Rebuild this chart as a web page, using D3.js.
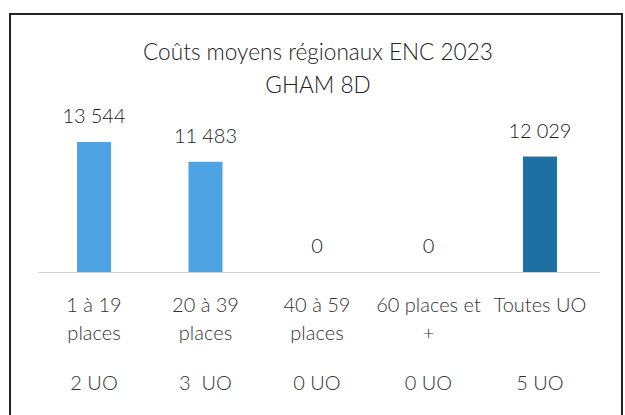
<!DOCTYPE html>
<html><head><meta charset="utf-8">
<script src="https://cdn.jsdelivr.net/npm/d3@7"></script>
<style>body{margin:0;background:#fff}svg{display:block}</style>
</head><body>
<svg id="c" width="625" height="415"></svg>
<script>
const categories = [["1 à 19","places"],["20 à 39","places"],["40 à 59","places"],["60 places et","+"],["Toutes UO"]];
const values = [13544, 11483, 0, 0, 12029];
const uoLabels = ["2 UO","3  UO","0 UO","0 UO","5 UO"];
const titleLines = ["Coûts moyens régionaux ENC 2023","GHAM 8D"];
const colors = ["#4ea4e2","#4ea4e2","#4ea4e2","#4ea4e2","#1e6fa2"];

const svg = d3.select("#c");
const font = "Lato, 'Open Sans', sans-serif";
svg.append("rect").attr("x",0).attr("y",0).attr("width",625).attr("height",415).attr("fill","#fff");
svg.append("rect").attr("x",10).attr("y",14).attr("width",612).attr("height",410)
  .attr("fill","none").attr("stroke","#222").attr("stroke-width",2);

const x = d3.scaleBand().domain(d3.range(values.length)).range([38,596]).paddingInner(0.695).paddingOuter(0.35);
const y = d3.scaleLinear().domain([0,13544]).range([272,142]);

svg.selectAll("text.title").data(titleLines).join("text")
  .attr("x",318).attr("y",(d,i)=>60+i*33).attr("text-anchor","middle")
  .attr("font-family",font).attr("font-size",22.6).attr("font-weight",300).attr("fill","#222").text(d=>d);

svg.append("line").attr("x1",38).attr("x2",600).attr("y1",272.5).attr("y2",272.5)
  .attr("stroke","#d4d4d4").attr("stroke-width",1.2);

svg.selectAll("rect.bar").data(values).join("rect").attr("class","bar")
  .attr("x",(d,i)=>x(i)).attr("width",x.bandwidth())
  .attr("y",d=>y(d)).attr("height",d=>y(0)-y(d)).attr("fill",(d,i)=>colors[i]);

const fmt = v => d3.format(",")(v).replace(/,/g,"\u202f");
svg.selectAll("text.val").data(values).join("text")
  .attr("x",(d,i)=>x(i)+x.bandwidth()/2).attr("y",d=>y(d)-19)
  .attr("text-anchor","middle").attr("font-family",font).attr("font-size",20).attr("font-weight",300).attr("fill","#222")
  .text(d=>fmt(d));

categories.forEach((lines,i)=>{
  lines.forEach((l,j)=>{
    svg.append("text").attr("x",x(i)+x.bandwidth()/2).attr("y",312+j*28)
      .attr("text-anchor","middle").attr("font-family",font).attr("font-size",20).attr("font-weight",300).attr("fill","#333").text(l);
  });
});
svg.selectAll("text.uo").data(uoLabels).join("text")
  .attr("x",(d,i)=>x(i)+x.bandwidth()/2).attr("y",390)
  .attr("text-anchor","middle").attr("font-family",font).attr("font-size",20).attr("font-weight",300).attr("fill","#333")
  .attr("xml:space","preserve").style("white-space","pre").text(d=>d);
</script>
</body></html>
